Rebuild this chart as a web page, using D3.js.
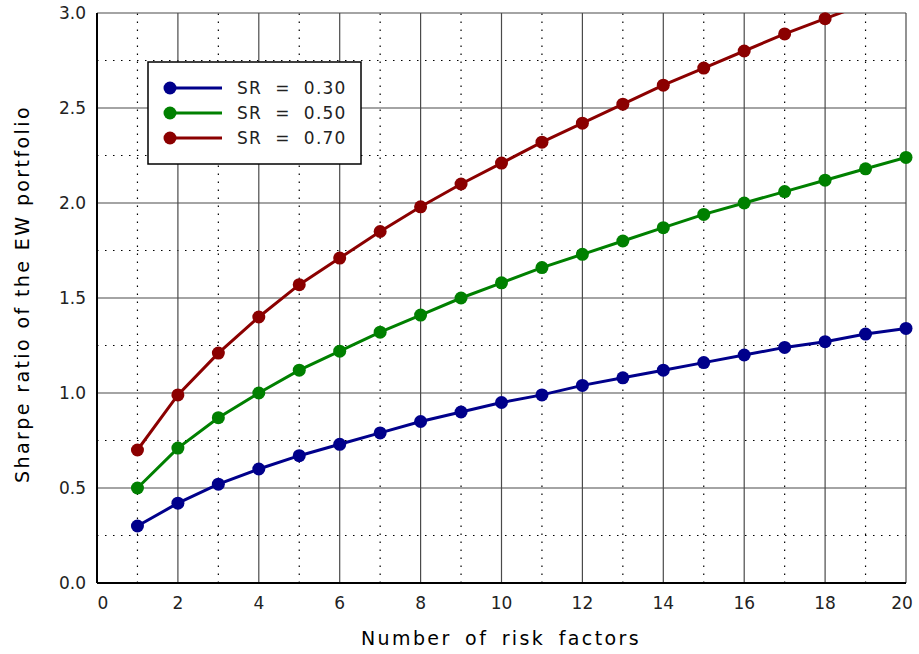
<!DOCTYPE html>
<html>
<head>
<meta charset="utf-8">
<script src="https://cdn.jsdelivr.net/npm/d3@7"></script>
<style>
  body { margin: 0; background: #fff; }
  text { font-family: "DejaVu Sans", sans-serif; }
</style>
</head>
<body>
<svg width="919" height="654"></svg>
<script>
var factors = [1,2,3,4,5,6,7,8,9,10,11,12,13,14,15,16,17,18,19,20];
var sr030 = [0.30,0.42,0.52,0.60,0.67,0.73,0.79,0.85,0.90,0.95,0.99,1.04,1.08,1.12,1.16,1.20,1.24,1.27,1.31,1.34];
var sr050 = [0.50,0.71,0.87,1.00,1.12,1.22,1.32,1.41,1.50,1.58,1.66,1.73,1.80,1.87,1.94,2.00,2.06,2.12,2.18,2.24];
var sr070 = [0.70,0.99,1.21,1.40,1.57,1.71,1.85,1.98,2.10,2.21,2.32,2.42,2.52,2.62,2.71,2.80,2.89,2.97,3.05,3.13];
var seriesNames = ["SR = 0.30", "SR = 0.50", "SR = 0.70"];
var seriesColors = ["#00008b", "#008000", "#8b0000"];
var xTicks = [0,2,4,6,8,10,12,14,16,18,20];
var yTicks = [0.0,0.5,1.0,1.5,2.0,2.5,3.0];

var svg = d3.select("svg");
var m = {left: 97, right: 906, top: 13, bottom: 583};
var x = d3.scaleLinear().domain([0, 20]).range([m.left, m.right]);
var y = d3.scaleLinear().domain([0, 3]).range([m.bottom, m.top]);

// minor dotted grid
var minorX = d3.range(1, 20, 2);
var minorY = d3.range(0.25, 3, 0.5);
svg.append("g").selectAll("line").data(minorX).enter().append("line")
  .attr("x1", d => x(d)).attr("x2", d => x(d))
  .attr("y1", m.bottom).attr("y2", m.top)
  .attr("stroke", "#000").attr("stroke-width", 1.2).attr("stroke-dasharray", "1.5,6.5");
svg.append("g").selectAll("line").data(minorY).enter().append("line")
  .attr("x1", m.left).attr("x2", m.right)
  .attr("y1", d => y(d)).attr("y2", d => y(d))
  .attr("stroke", "#000").attr("stroke-width", 1.2).attr("stroke-dasharray", "1.5,6.5");

// major solid grid
svg.append("g").selectAll("line").data(xTicks.slice(1)).enter().append("line")
  .attr("x1", d => x(d)).attr("x2", d => x(d))
  .attr("y1", m.top).attr("y2", m.bottom)
  .attr("stroke", "#4a4a4a").attr("stroke-width", 1.2);
svg.append("g").selectAll("line").data(yTicks.slice(1)).enter().append("line")
  .attr("x1", m.left).attr("x2", m.right)
  .attr("y1", d => y(d)).attr("y2", d => y(d))
  .attr("stroke", "#4a4a4a").attr("stroke-width", 1.2);

// axes
svg.append("line").attr("x1", m.left).attr("x2", m.left).attr("y1", m.top).attr("y2", m.bottom)
  .attr("stroke", "#000").attr("stroke-width", 2);
svg.append("line").attr("x1", m.left).attr("x2", m.right).attr("y1", m.bottom).attr("y2", m.bottom)
  .attr("stroke", "#000").attr("stroke-width", 2);

svg.append("g").selectAll("text").data(xTicks).enter().append("text")
  .attr("x", d => x(d) + (d === 0 ? 6 : d === 20 ? -4 : 0)).attr("y", 609)
  .attr("text-anchor", "middle").attr("font-size", 17).attr("fill", "#222")
  .text(d => d);
svg.append("g").selectAll("text").data(yTicks).enter().append("text")
  .attr("x", 86).attr("y", d => y(d) + 6)
  .attr("text-anchor", "end").attr("font-size", 17).attr("fill", "#222")
  .text(d => d.toFixed(1));

svg.append("text").attr("x", 501).attr("y", 645).attr("text-anchor", "middle")
  .attr("font-size", 19).attr("letter-spacing", 2.4).attr("word-spacing", 5).attr("fill", "#000")
  .text("Number of risk factors");
svg.append("text").attr("transform", "translate(29,294) rotate(-90)").attr("text-anchor", "middle")
  .attr("font-size", 19).attr("letter-spacing", 2.4).attr("fill", "#000")
  .text("Sharpe ratio of the EW portfolio");

// series
var defs = svg.append("defs");
defs.append("clipPath").attr("id", "plotclip").append("rect")
  .attr("x", m.left).attr("y", m.top - 8).attr("width", m.right - m.left + 8).attr("height", m.bottom - m.top + 16);
defs.append("clipPath").attr("id", "lineclip").append("rect")
  .attr("x", m.left).attr("y", m.top).attr("width", m.right - m.left).attr("height", m.bottom - m.top);
var allSeries = [sr030, sr050, sr070];
var line = d3.line().x((d, i) => x(factors[i])).y(d => y(d));
var plotG = svg.append("g").attr("clip-path", "url(#plotclip)");
allSeries.forEach(function(s, k) {
  plotG.append("path").datum(s).attr("d", line)
    .attr("fill", "none").attr("stroke", seriesColors[k]).attr("stroke-width", 3)
    .attr("clip-path", "url(#lineclip)");
  plotG.selectAll(".pt" + k).data(s.filter(v => v <= 3.0)).enter().append("circle")
    .attr("cx", (d, i) => x(factors[i])).attr("cy", d => y(d)).attr("r", 6.5)
    .attr("fill", seriesColors[k]);
});

// legend
var lg = svg.append("g");
lg.append("rect").attr("x", 148).attr("y", 62).attr("width", 213).attr("height", 102)
  .attr("fill", "#fff").attr("stroke", "#000").attr("stroke-width", 1.5);
seriesNames.forEach(function(n, k) {
  var ly = 88 + k * 25;
  lg.append("line").attr("x1", 170).attr("x2", 222).attr("y1", ly).attr("y2", ly)
    .attr("stroke", seriesColors[k]).attr("stroke-width", 3);
  lg.append("circle").attr("cx", 170).attr("cy", ly).attr("r", 6.5).attr("fill", seriesColors[k]);
  lg.append("text").attr("x", 237).attr("y", ly + 6).attr("font-size", 17)
    .attr("letter-spacing", 1.2).attr("fill", "#222").attr("xml:space", "preserve")
    .text(n.replace(/ = /, "  =  "));
});
</script>
</body>
</html>
